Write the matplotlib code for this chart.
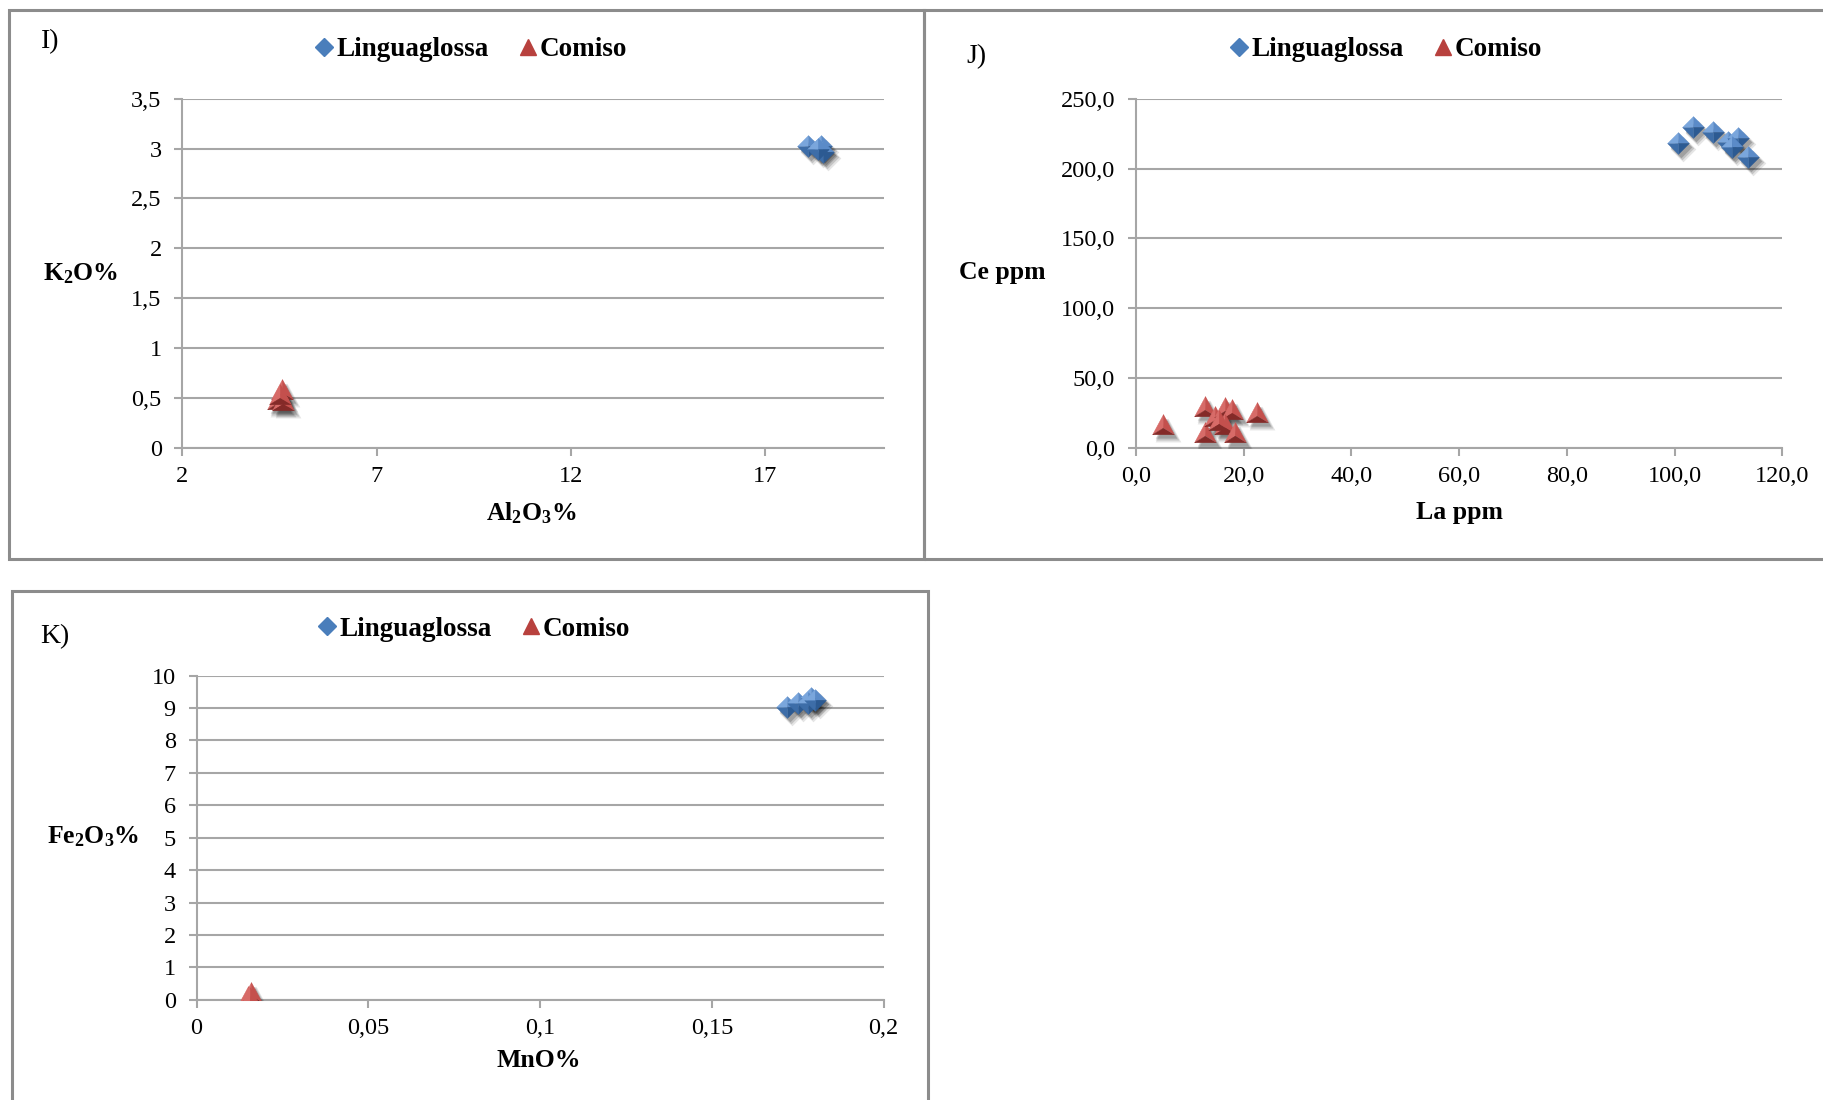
import numpy as np
import matplotlib
matplotlib.use("Agg")
import matplotlib.pyplot as plt
import matplotlib.transforms as mtransforms
from matplotlib.patches import Rectangle
from matplotlib.lines import Line2D
from matplotlib.ticker import FuncFormatter

plt.rcParams['font.family'] = ['Liberation Serif', 'DejaVu Serif']
plt.rcParams['mathtext.default'] = 'regular'

# panel I: Al2O3% vs K2O%
ling_al = [18.1, 18.45, 18.5, 18.35]
ling_k = [3.03, 3.03, 2.97, 3.0]
comiso_al = [4.45, 4.55, 4.6, 4.5]
comiso_k = [0.48, 0.58, 0.47, 0.53]

# panel J: La ppm vs Ce ppm
ling_la = [100.6, 103.4, 107.1, 109.9, 111.7, 110.6, 113.6]
ling_ce = [218.3, 229.8, 226.2, 219.0, 221.8, 215.4, 208.3]
comiso_la = [5.0, 12.8, 12.8, 14.7, 16.5, 17.8, 16.5, 18.4, 22.4, 15.5]
comiso_ce = [16.2, 29.3, 10.3, 22.2, 28.2, 27.0, 16.2, 10.3, 24.6, 19.0]

# panel K: MnO% vs Fe2O3%
ling_mn = [0.172, 0.175, 0.179, 0.178, 0.180]
ling_fe = [9.03, 9.15, 9.3, 9.15, 9.25]
comiso_mn = [0.015, 0.016, 0.0155]
comiso_fe = [0.1, 0.2, 0.05]

series_names = ["Linguaglossa", "Comiso"]

BLUE = ["#4a7ebb", "#7aa6dc", "#5b8bc8", "#2c5a92", "#3d6da8"]   # base, light, mid, dark, middark
RED = ["#b8413e", "#d76b68", "#c4504d", "#842a28", "#a13835"]
GRID = "#a6a6a6"

fig = plt.figure(figsize=(18.23, 11.0), dpi=100)

# facets of the bevelled markers, around the point (0, 0)
diamond_facets = [
    ([(0, 0), (-1, 0), (0, 1)], 1),
    ([(0, 0), (0, 1), (1, 0)], 2),
    ([(0, 0), (1, 0), (0, -1)], 3),
    ([(0, 0), (0, -1), (-1, 0)], 4),
]
tri_top, tri_bl, tri_br, tri_c = (0, 1), (-1, -0.85), (1, -0.85), (0, -0.25)
triangle_facets = [
    ([tri_c, tri_top, tri_bl], 1),
    ([tri_c, tri_top, tri_br], 2),
    ([tri_c, tri_bl, tri_br], 3),
]


def draw_points(ax, x, y, kind, colors):
    facets = diamond_facets if kind == "D" else triangle_facets
    ms = 15.5
    full = [(0, 1), (1, 0), (0, -1), (-1, 0)] if kind == "D" else [tri_top, tri_br, tri_bl]
    # soft drop shadow, a few stacked layers
    for dx, dy, grow, a in [(5, -6, 3, 0.10), (4, -5, 1.5, 0.14), (3, -4, 0, 0.18)]:
        shadow = mtransforms.offset_copy(ax.transData, fig=fig, x=dx, y=dy, units='dots')
        ax.plot(x, y, ls='none', marker=full, ms=ms + grow, color="#000000", alpha=a,
                mew=0, transform=shadow, zorder=3)
    # draw point by point so overlapping markers stack properly
    for xi, yi in zip(x, y):
        for verts, ci in facets:
            ax.plot([xi], [yi], ls='none', marker=verts, ms=ms, color=colors[ci],
                    mec=colors[ci], mew=0.4, zorder=4)


def comma_fmt(decimals):
    def f(v, pos):
        if decimals is None:
            s = ("%g" % round(v, 6))
        else:
            s = ("%." + str(decimals) + "f") % v
        return s.replace(".", ",")
    return FuncFormatter(f)


def style_axes(ax):
    for side in ["top", "right"]:
        ax.spines[side].set_visible(False)
    for side in ["left", "bottom"]:
        ax.spines[side].set_color(GRID)
        ax.spines[side].set_linewidth(1.5)
    ax.grid(axis='y', color=GRID, lw=1.5)
    ax.set_axisbelow(True)
    ax.tick_params(axis='both', colors=GRID, labelcolor="#000000", labelsize=17.5,
                   length=6, width=1.5, direction='out')
    ax.tick_params(axis='y', pad=9)
    ax.tick_params(axis='x', pad=7)


def add_legend(ax, cx, cy):
    handles = [
        Line2D([], [], ls='none', marker='D', ms=9, color=BLUE[0]),
        Line2D([], [], ls='none', marker='^', ms=12, color=RED[0]),
    ]
    ax.legend(handles, series_names, loc='center', bbox_to_anchor=(cx / 1823, 1 - cy / 1100),
              bbox_transform=fig.transFigure, ncol=2, frameon=False, handlelength=0.7,
              handletextpad=0.1, columnspacing=1.1, prop={'size': 19.5, 'weight': 'bold'})


def set_labels(ax, xlabel, ylabel, xpos, ypos):
    ax.set_xlabel(xlabel, fontsize=18.5, fontweight='bold')
    ax.xaxis.set_label_coords(*xpos)
    ax.xaxis.label.set_va('center')
    ax.set_ylabel(ylabel, fontsize=18.5, fontweight='bold', rotation=0)
    ax.yaxis.set_label_coords(*ypos)
    ax.yaxis.label.set_va('center')
    ax.yaxis.label.set_ha('center')


# panel frames
for (x0, y0, x1, y1) in [(9, 10, 924, 559), (924, 10, 1840, 559), (12, 591, 928, 1120)]:
    fig.patches.append(Rectangle((x0 / 1823, 1 - y1 / 1100), (x1 - x0) / 1823, (y1 - y0) / 1100,
                                 transform=fig.transFigure, fill=False, ec="#8c8c8c", lw=2.2))

# ---- I ----
ax1 = fig.add_axes([0.1001, 0.5931, 0.3846, 0.3171])
style_axes(ax1)
ax1.set_xlim(2, 20.05)
ax1.set_ylim(0, 3.5)
ax1.set_xticks([2, 7, 12, 17])
ax1.set_yticks(np.arange(0, 3.6, 0.5))
ax1.yaxis.set_major_formatter(comma_fmt(None))
draw_points(ax1, comiso_al, comiso_k, "^", RED)
draw_points(ax1, ling_al, ling_k, "D", BLUE)
set_labels(ax1, "Al$_2$O$_3$%", "K$_2$O%", (0.497, -0.1875), (-0.145, 0.498))
add_legend(ax1, 471, 50)
fig.text(50 / 1823, 1 - 42 / 1100, "I)", fontsize=20, ha='center', va='center')

# ---- J ----
ax2 = fig.add_axes([0.6231, 0.5931, 0.3546, 0.3171])
style_axes(ax2)
ax2.set_xlim(0, 120)
ax2.set_ylim(0, 250)
ax2.set_xticks(np.arange(0, 121, 20))
ax2.set_yticks(np.arange(0, 251, 50))
ax2.xaxis.set_major_formatter(comma_fmt(1))
ax2.yaxis.set_major_formatter(comma_fmt(1))
draw_points(ax2, comiso_la, comiso_ce, "^", RED)
draw_points(ax2, ling_la, ling_ce, "D", BLUE)
set_labels(ax2, "La ppm", "Ce ppm", (0.5, -0.1875), (-0.207, 0.503))
add_legend(ax2, 1386, 50)
fig.text(976 / 1823, 1 - 57 / 1100, "J)", fontsize=20, ha='center', va='center')

# ---- K ----
ax3 = fig.add_axes([0.1078, 0.0911, 0.3769, 0.2948])
style_axes(ax3)
ax3.set_xlim(0, 0.2)
ax3.set_ylim(0, 10)
ax3.set_xticks([0, 0.05, 0.1, 0.15, 0.2])
ax3.set_yticks(np.arange(0, 11, 1))
ax3.xaxis.set_major_formatter(comma_fmt(None))
draw_points(ax3, comiso_mn, comiso_fe, "^", RED)
draw_points(ax3, ling_mn, ling_fe, "D", BLUE)
set_labels(ax3, "MnO%", "Fe$_2$O$_3$%", (0.498, -0.186), (-0.151, 0.502))
add_legend(ax3, 474, 629)
fig.text(55 / 1823, 1 - 637 / 1100, "K)", fontsize=20, ha='center', va='center')

fig.savefig("out.png", dpi=100)
